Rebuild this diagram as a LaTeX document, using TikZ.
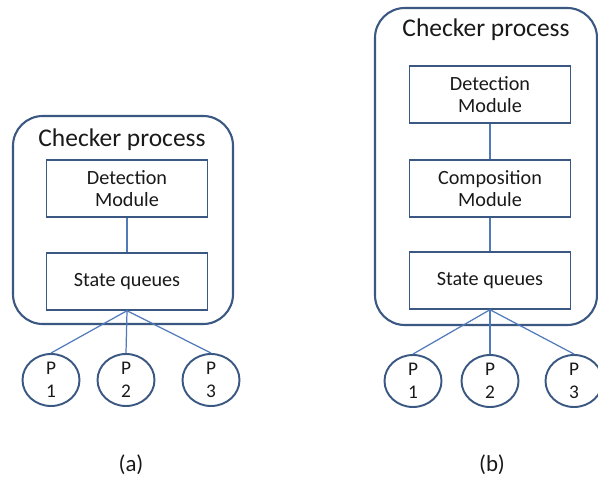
\documentclass[tikz,border=0pt]{standalone}
\usepackage{fontspec}
\setmainfont{Carlito}
\usetikzlibrary{positioning, shapes.geometric}
\definecolor{boxblue}{RGB}{58,88,130}
\definecolor{linkblue}{RGB}{80,122,186}
\definecolor{inktext}{RGB}{25,25,25}
\tikzset{
  procbox/.style={draw=boxblue, line width=1.2pt, rounded corners=17pt},
  modbox/.style={draw=boxblue, line width=1.1pt, minimum width=3.22cm, minimum height=1.13cm, align=center, text=inktext, font=\fontsize{11.5}{12.5}\selectfont},
  pnode/.style={ellipse, draw=boxblue, line width=1.1pt, minimum width=1.14cm, minimum height=1.04cm, inner sep=0pt, align=center, text=inktext, font=\fontsize{11}{13}\selectfont},
  link/.style={draw=linkblue, line width=0.7pt},
  titletext/.style={text=inktext, font=\fontsize{14.5}{16}\selectfont}
}

\begin{document}
\begin{tikzpicture}[x=0.02cm, y=-0.02cm]
    \useasboundingbox (0,0) rectangle (598,483);
    % (a)
    \draw[procbox] (13,116) rectangle (233,324);
    \node[titletext] (titlea) at (122,140) {Checker process};
    \node[modbox] (deta) at (127,188.5) {Detection\\Module};
    \node[modbox] (sqa) at (127,281.5) {State queues};
    \draw[link] (deta) -- (sqa);
    \foreach \n/\x in {1/51,2/126,3/211} {
        \node[pnode] (pa\n) at (\x,380) {P\\\n};
        \draw[link] (sqa.south) -- (pa\n.north);
    }
    \node[titletext, font=\fontsize{13}{15}\selectfont] (capa) at (131,465) {(a)};
    % (b)
    \draw[procbox] (375,8) rectangle (597,325);
    \node[titletext] (titleb) at (486,30) {Checker process};
    \node[modbox] (detb) at (490,94.5) {Detection\\Module};
    \node[modbox] (compb) at (490,188.5) {Composition\\Module};
    \node[modbox] (sqb) at (490,280.5) {State queues};
    \draw[link] (detb) -- (compb);
    \draw[link] (compb) -- (sqb);
    \foreach \n/\x in {1/413,2/490,3/574} {
        \node[pnode] (pb\n) at (\x,381) {P\\\n};
        \draw[link] (sqb.south) -- (pb\n.north);
    }
    \node[titletext, font=\fontsize{13}{15}\selectfont] (capb) at (492,465) {(b)};
\end{tikzpicture}
\end{document}
